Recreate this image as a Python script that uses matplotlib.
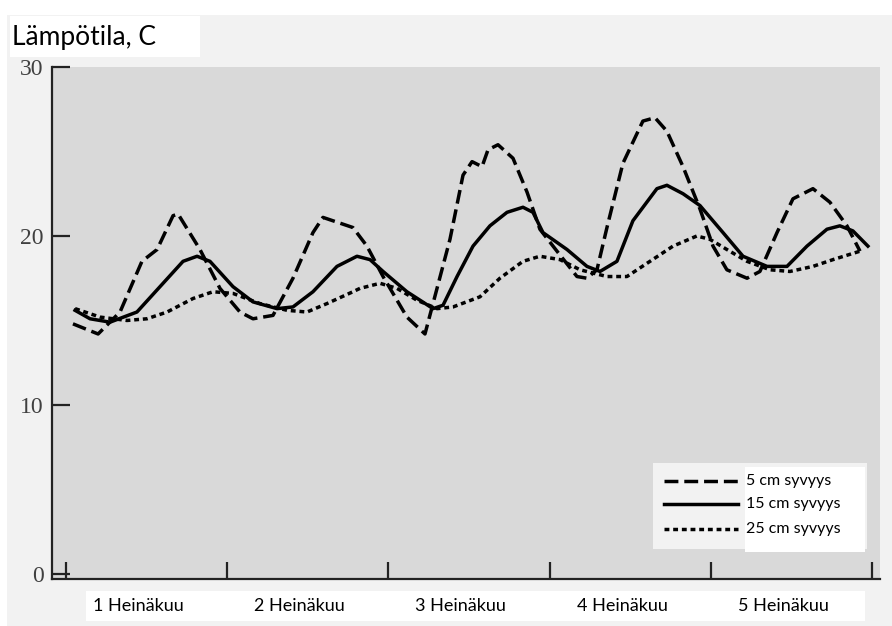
#!/usr/bin/env python3
import matplotlib

matplotlib.use("Agg")
import matplotlib.pyplot as plt
from matplotlib.lines import Line2D
from matplotlib.patches import Rectangle

W, H = 892, 626

title = "Lämpötila, C"
day_labels = ["1 Heinäkuu", "2 Heinäkuu", "3 Heinäkuu", "4 Heinäkuu", "5 Heinäkuu"]
series_names = ["5 cm syvyys", "15 cm syvyys", "25 cm syvyys"]
y_ticks = [0, 10, 20, 30]

# time in days from the start of 1 July, temperature in C
d5_x = [0.043, 0.199, 0.335, 0.471, 0.565, 0.664, 0.695, 0.831, 0.955, 1.079,
        1.160, 1.284, 1.408, 1.532, 1.594, 1.718, 1.780, 1.867, 1.967, 2.115,
        2.227, 2.382, 2.463, 2.519, 2.581, 2.618, 2.680, 2.773, 2.860, 2.940,
        3.046, 3.170, 3.232, 3.294, 3.356, 3.455, 3.579, 3.654, 3.728, 3.828,
        3.933, 4.014, 4.100, 4.225, 4.305, 4.411, 4.510, 4.634, 4.739, 4.845,
        4.926]
d5_y = [14.8, 14.2, 15.5, 18.5, 19.2, 21.2, 21.3, 19.2, 16.9, 15.5,
        15.1, 15.3, 17.5, 20.2, 21.1, 20.7, 20.5, 19.4, 17.6, 15.2,
        14.2, 19.8, 23.6, 24.4, 24.1, 25.1, 25.4, 24.6, 22.6, 20.4,
        19.1, 17.6, 17.5, 18.0, 20.5, 24.3, 26.8, 27.0, 26.2, 24.1,
        21.6, 19.4, 18.0, 17.5, 17.9, 20.2, 22.2, 22.8, 22.0, 20.6,
        19.1]

d15_x = [0.056, 0.149, 0.273, 0.440, 0.583, 0.726, 0.813, 0.893, 1.036, 1.160,
         1.309, 1.408, 1.532, 1.681, 1.805, 1.886, 1.967, 2.115, 2.277, 2.339,
         2.426, 2.525, 2.630, 2.736, 2.835, 2.897, 2.959, 3.108, 3.232, 3.313,
         3.418, 3.517, 3.666, 3.728, 3.828, 3.933, 4.076, 4.200, 4.349, 4.473,
         4.597, 4.721, 4.801, 4.882, 4.975]
d15_y = [15.6, 15.1, 14.9, 15.5, 17.0, 18.5, 18.8, 18.5, 17.0, 16.1,
         15.7, 15.8, 16.7, 18.2, 18.8, 18.6, 17.9, 16.7, 15.7, 15.9,
         17.6, 19.4, 20.6, 21.4, 21.7, 21.4, 20.2, 19.2, 18.2, 17.9,
         18.5, 20.9, 22.8, 23.0, 22.5, 21.8, 20.2, 18.8, 18.2, 18.2,
         19.4, 20.4, 20.6, 20.3, 19.4]

d25_x = [0.056, 0.211, 0.378, 0.502, 0.627, 0.788, 0.912, 1.036, 1.203, 1.371,
         1.495, 1.619, 1.780, 1.824, 1.948, 2.053, 2.177, 2.302, 2.401, 2.568,
         2.692, 2.835, 2.940, 3.065, 3.189, 3.356, 3.480, 3.623, 3.766, 3.914,
         3.995, 4.100, 4.225, 4.367, 4.491, 4.634, 4.758, 4.926]
d25_y = [15.7, 15.2, 15.0, 15.1, 15.5, 16.3, 16.7, 16.6, 16.0, 15.6,
         15.5, 16.0, 16.7, 16.9, 17.2, 16.9, 16.2, 15.7, 15.8, 16.4,
         17.5, 18.5, 18.8, 18.6, 18.0, 17.6, 17.6, 18.5, 19.4, 20.0,
         19.8, 19.2, 18.5, 18.0, 17.9, 18.2, 18.6, 19.1]

SANS = ["Lato", "DejaVu Sans"]
SERIF = ["Liberation Serif", "DejaVu Serif"]


def fx(px):
    return px / W


def fy(py):
    return 1 - py / H


def fig_rect(fig, x0, y0, x1, y1, color, z):
    fig.patches.append(Rectangle((fx(x0), fy(y1)), fx(x1) - fx(x0), fy(y0) - fy(y1),
                                 transform=fig.transFigure, facecolor=color,
                                 edgecolor="none", zorder=z))


fig = plt.figure(figsize=(W / 100, H / 100), dpi=100, facecolor="white")
fig_rect(fig, 7, 15, 892, 626, "#f2f2f2", -10)
fig_rect(fig, 10, 16, 200, 57, "white", -5)
fig_rect(fig, 86, 591, 865, 621, "white", -5)
fig.text(fx(12), fy(38), title, fontsize=19, family=SANS, va="center", ha="left")

ax = fig.add_axes([fx(52), fy(579), fx(880) - fx(52), fy(67) - fy(579)])
ax.set_facecolor("#d9d9d9")
ax.set_xlim(-0.087, 5.05)
ax.set_ylim(-0.3, 30)

line_style = dict(color="black", lw=2.5, solid_joinstyle="round",
                  dash_joinstyle="round")
ax.plot(d5_x, d5_y, dashes=(4.0, 1.7), **line_style)
ax.plot(d15_x, d15_y, **line_style)
ax.plot(d25_x, d25_y, dashes=(1.4, 1.1), **line_style)

for s in ["top", "right"]:
    ax.spines[s].set_visible(False)
for s in ["left", "bottom"]:
    ax.spines[s].set_color("#222222")
    ax.spines[s].set_linewidth(1.6)

ax.set_yticks(y_ticks)
ax.set_yticklabels([str(v) for v in y_ticks], family=SERIF, fontsize=17,
                   color="#404040")
ax.tick_params(axis="y", direction="in", length=13, width=1.6, color="#222222", pad=6)

ax.set_xticks(range(6))
ax.set_xticklabels([""] * 6)
ax.tick_params(axis="x", which="major", direction="in", length=12, width=1.6,
               color="#222222")
ax.set_xticks([i + 0.45 for i in range(5)], minor=True)
ax.set_xticklabels(day_labels, minor=True, family=SANS, fontsize=13)
ax.tick_params(axis="x", which="minor", length=0, pad=14)

# legend
fig_rect(fig, 653, 463, 867, 549, "#f2f2f2", 5)
fig_rect(fig, 745, 467, 865, 552, "white", 6)
leg_y = [481, 504, 529]
leg_dash = [(4.0, 1.7), None, (1.4, 1.1)]
for name, yy, dsh in zip(series_names, leg_y, leg_dash):
    ln = Line2D([fx(664), fx(738)], [fy(yy), fy(yy)], transform=fig.transFigure,
                color="black", lw=2.5, zorder=7)
    if dsh is not None:
        ln.set_dashes(dsh)
    fig.lines.append(ln)
    fig.text(fx(746), fy(yy), name, family=SANS, fontsize=11.5, va="center",
             ha="left", zorder=8)

fig.savefig("out.png", dpi=100, facecolor=fig.get_facecolor())
